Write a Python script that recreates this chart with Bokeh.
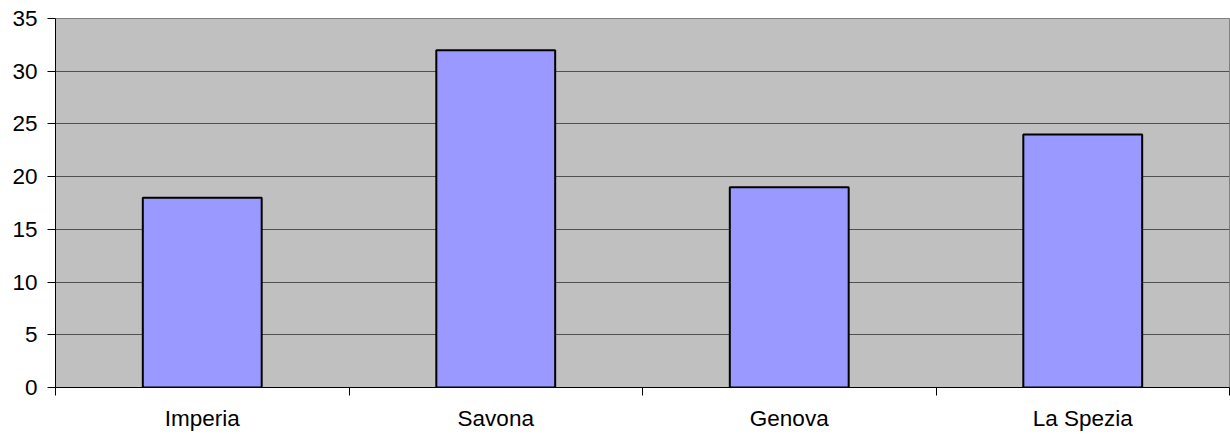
from bokeh.plotting import figure
from bokeh.models import FixedTicker, Range1d, ColumnDataSource
from bokeh.embed import file_html
from bokeh.resources import INLINE

# Province counts
provinces = ["Imperia", "Savona", "Genova", "La Spezia"]
counts = [18, 32, 19, 24]
y_ticks = [0, 5, 10, 15, 20, 25, 30, 35]

centers = [i + 0.5 for i in range(len(provinces))]
source = ColumnDataSource(data=dict(x=centers, top=counts, name=provinces))

p = figure(width=1230, height=434, output_backend="svg", toolbar_location=None,
           x_range=Range1d(0, len(provinces)), y_range=Range1d(0, 35))
p.min_border_left = 55
p.min_border_right = 1
p.min_border_top = 18
p.min_border_bottom = 47

p.background_fill_color = "#C0C0C0"
p.border_fill_color = "white"
p.outline_line_color = "#808080"
p.outline_line_width = 1

p.vbar(x="x", top="top", bottom=0, width=0.405, source=source,
       fill_color="#9999FF", line_color="black", line_width=2)

font = "Liberation Sans"
fsize = "22.5px"

# y axis
p.yaxis.ticker = FixedTicker(ticks=y_ticks)
p.yaxis.axis_line_color = "black"
p.yaxis.major_tick_line_color = "black"
p.yaxis.major_tick_out = 8
p.yaxis.major_tick_in = 0
p.yaxis.minor_tick_line_color = None
p.yaxis.major_label_text_font = font
p.yaxis.major_label_text_font_size = fsize
p.yaxis.major_label_text_color = "black"
p.yaxis.major_label_standoff = 10

# x axis: labels at category centres, tick marks at category boundaries
p.xaxis.ticker = FixedTicker(ticks=centers,
                             minor_ticks=list(range(len(provinces) + 1)))
p.xaxis.major_label_overrides = {c: n for c, n in zip(centers, provinces)}
p.xaxis.major_tick_line_color = None
p.xaxis.minor_tick_line_color = "black"
p.xaxis.minor_tick_out = 8
p.xaxis.minor_tick_in = 0
p.xaxis.axis_line_color = "black"
p.xaxis.major_label_text_font = font
p.xaxis.major_label_text_font_size = fsize
p.xaxis.major_label_text_color = "black"
p.xaxis.major_label_standoff = 10

p.xgrid.grid_line_color = None
p.ygrid.ticker = FixedTicker(ticks=y_ticks)
p.ygrid.grid_line_color = "#505050"
p.ygrid.grid_line_width = 1

open("out.html", "w").write(file_html(p, INLINE))
